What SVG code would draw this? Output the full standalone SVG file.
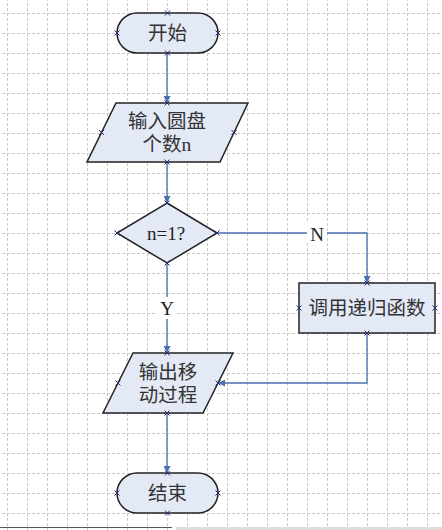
<svg xmlns="http://www.w3.org/2000/svg" width="442" height="530" viewBox="0 0 442 530">
<defs>
<pattern id="grid" patternUnits="userSpaceOnUse" x="7" y="13" width="20" height="20">
<line x1="0.5" y1="0" x2="0.5" y2="20" stroke="#c8c8c8" stroke-width="1" stroke-dasharray="3,2"/>
<line x1="0" y1="0.5" x2="20" y2="0.5" stroke="#c8c8c8" stroke-width="1" stroke-dasharray="3,2"/>
</pattern>
<marker id="arr" viewBox="0 0 10 10" refX="10" refY="5" markerWidth="7" markerHeight="7" orient="auto" markerUnits="userSpaceOnUse">
<path d="M0,0 L10,5 L0,10 Z" fill="#4a70b0"/>
</marker>
<g id="cx"><path d="M-2.5,-2.5 L2.5,2.5 M-2.5,2.5 L2.5,-2.5" stroke="#2a2a70" stroke-width="1"/></g>
</defs>
<style>
.shape{fill:#e4e9f6;stroke:#222;stroke-width:1.5}
.cn{font-family:"Liberation Serif","Noto Sans CJK SC",serif;font-size:19.5px;fill:#333;text-anchor:middle;dominant-baseline:central}
.lat{font-family:"Liberation Serif",serif;font-size:19px;fill:#222;text-anchor:middle;dominant-baseline:central}
.conn{fill:none;stroke:#4a70b0;stroke-width:1.3}
</style>
<rect width="442" height="530" fill="#fff"/>
<rect width="442" height="530" fill="url(#grid)"/>
<line x1="0" y1="527.5" x2="172" y2="527.5" stroke="#555" stroke-width="1"/>
<rect x="176" y="527" width="266" height="3" fill="#ddd"/>

<g id="connectors">
<path class="conn" d="M167,53 V103" marker-end="url(#arr)"/>
<path class="conn" d="M167,162 V203" marker-end="url(#arr)"/>
<path class="conn" d="M217,233 H367 V283" marker-end="url(#arr)"/>
<path class="conn" d="M167,263 V353" marker-end="url(#arr)"/>
<path class="conn" d="M367,333 V383 H218" marker-end="url(#arr)"/>
<path class="conn" d="M167,413 V473" marker-end="url(#arr)"/>
<rect x="307" y="223" width="20" height="20" fill="#fff"/>
<text class="lat" x="317" y="234">N</text>
<rect x="157" y="297" width="20" height="22" fill="#fff"/>
<text class="lat" x="167" y="308">Y</text>
</g>

<g id="start">
<rect class="shape" x="117" y="13" width="101" height="40" rx="20" ry="20"/>
<text class="cn" x="167.5" y="33">开始</text>
<use href="#cx" x="167.5" y="13"/><use href="#cx" x="167.5" y="53"/><use href="#cx" x="117" y="33"/><use href="#cx" x="218" y="33"/>
</g>

<g id="input">
<polygon class="shape" points="116,103 248,103 220,162 87,162"/>
<text class="cn" x="167" y="121">输入圆盘</text>
<text class="cn" x="167" y="144">个数n</text>
<use href="#cx" x="167" y="103"/><use href="#cx" x="167" y="162"/><use href="#cx" x="101.5" y="132.5"/><use href="#cx" x="234" y="132.5"/>
</g>

<g id="decision">
<polygon class="shape" points="167,203 217,233 167,263 117,233"/>
<text class="lat" x="166" y="233">n=1?</text>
<use href="#cx" x="167" y="203"/><use href="#cx" x="167" y="263"/><use href="#cx" x="117" y="233"/><use href="#cx" x="217" y="233"/>
</g>

<g id="recurse">
<rect class="shape" x="299" y="283" width="136" height="50"/>
<text class="cn" x="367" y="308">调用递归函数</text>
<use href="#cx" x="367" y="283"/><use href="#cx" x="367" y="333"/><use href="#cx" x="299" y="308"/><use href="#cx" x="435" y="308"/>
</g>

<g id="output">
<polygon class="shape" points="133,353 233,353 203,413 103,413"/>
<text class="cn" x="168" y="372">输出移</text>
<text class="cn" x="168" y="395">动过程</text>
<use href="#cx" x="167" y="353"/><use href="#cx" x="167" y="413"/><use href="#cx" x="118" y="383"/><use href="#cx" x="218" y="383"/>
</g>

<g id="end">
<rect class="shape" x="117" y="473" width="101" height="40" rx="20" ry="20"/>
<text class="cn" x="167.5" y="493">结束</text>
<use href="#cx" x="167.5" y="473"/><use href="#cx" x="167.5" y="513"/><use href="#cx" x="117" y="493"/><use href="#cx" x="218" y="493"/>
</g>
</svg>
